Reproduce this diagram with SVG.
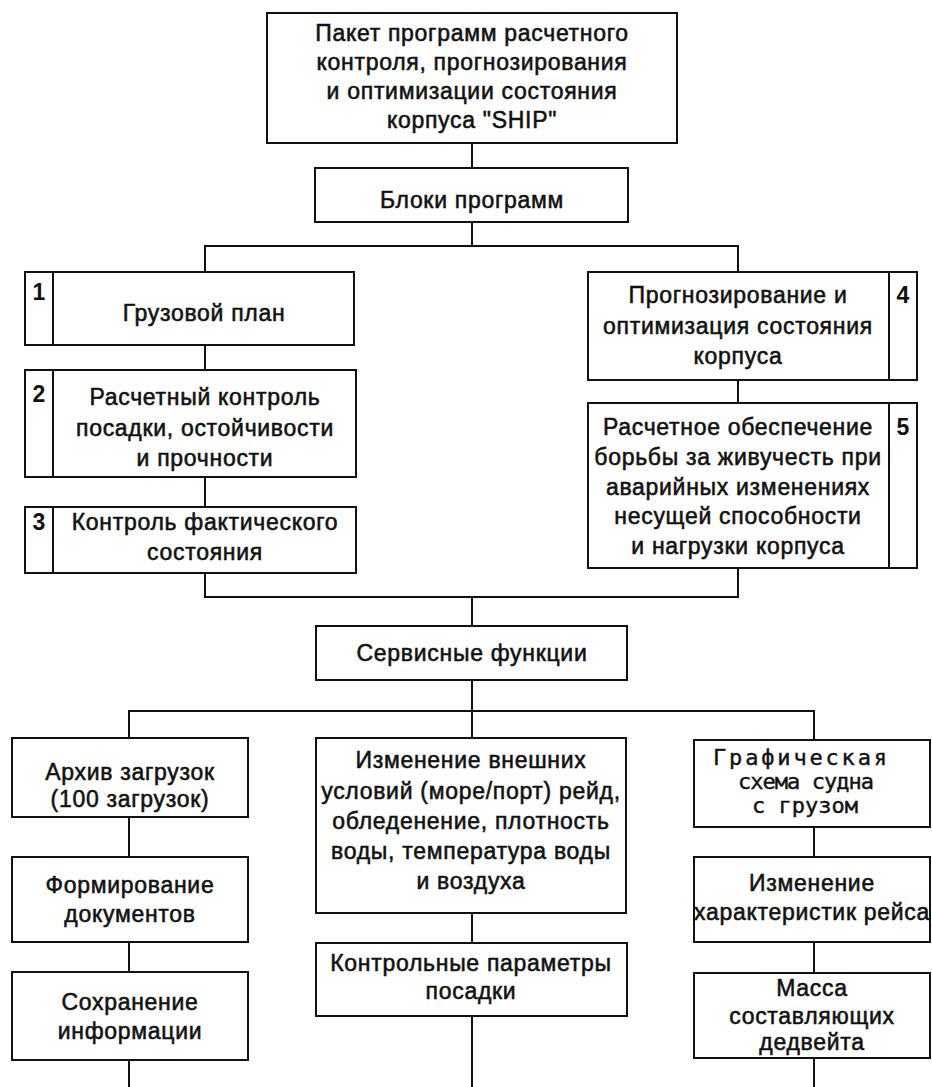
<svg xmlns="http://www.w3.org/2000/svg" width="932" height="1087" viewBox="0 0 932 1087">
  <style>
    .box{fill:#fff;stroke:#111;stroke-width:2}
    .sep{stroke:#111;stroke-width:2}
    .t{font-family:"Liberation Sans",Arial,sans-serif;font-size:23px;letter-spacing:0.7px;fill:#111;stroke:#111;stroke-width:0.55;text-anchor:middle}
    .n{font-family:"Liberation Sans",Arial,sans-serif;font-size:23px;font-weight:bold;fill:#111;text-anchor:middle}
    .m{font-family:"DejaVu Sans Mono","Liberation Mono",monospace;font-size:22px;fill:#111;stroke:#111;stroke-width:0.4;text-anchor:middle}
    .wire{fill:none;stroke:#111;stroke-width:2}
  </style>
  <rect width="932" height="1087" fill="#fff"/>

  <!-- tree connectors -->
  <g id="connectors" class="wire">
    <path d="M472,143 V168"/>
    <path d="M472,222 V246"/>
    <path d="M205,272 V246 H738 V272"/>
    <path d="M205,345 V370"/>
    <path d="M205,477 V507"/>
    <path d="M738,380 V403"/>
    <path d="M205,573 V597 H738 V568"/>
    <path d="M472,597 V626"/>
    <path d="M472,680 V738"/>
    <path d="M129,738 V711 H814 V740"/>
    <path d="M129,817 V857"/>
    <path d="M129,942 V972"/>
    <path d="M129,1060 V1087"/>
    <path d="M472,913 V943"/>
    <path d="M472,1016 V1087"/>
    <path d="M814,827 V857"/>
    <path d="M814,942 V973"/>
    <path d="M814,1058 V1087"/>
  </g>

  <g id="ship-package">
    <rect class="box" x="267" y="13" width="410" height="130"/>
    <text class="t" x="472" y="41">Пакет программ расчетного</text>
    <text class="t" x="472" y="70">контроля, прогнозирования</text>
    <text class="t" x="472" y="99">и оптимизации состояния</text>
    <text class="t" x="472" y="128">корпуса "SHIP"</text>
  </g>

  <g id="program-blocks">
    <rect class="box" x="315" y="168" width="313" height="54"/>
    <text class="t" x="472" y="208">Блоки программ</text>
  </g>

  <g id="block-1">
    <rect class="box" x="25" y="272" width="329" height="73"/>
    <line class="sep" x1="53" y1="272" x2="53" y2="345"/>
    <text class="n" x="39" y="300">1</text>
    <text class="t" x="204" y="321">Грузовой план</text>
  </g>

  <g id="block-2">
    <rect class="box" x="25" y="370" width="331" height="107"/>
    <line class="sep" x1="53" y1="370" x2="53" y2="477"/>
    <text class="n" x="39" y="402">2</text>
    <text class="t" x="205" y="405">Расчетный контроль</text>
    <text class="t" x="205" y="436">посадки, остойчивости</text>
    <text class="t" x="205" y="466">и прочности</text>
  </g>

  <g id="block-3">
    <rect class="box" x="25" y="507" width="331" height="66"/>
    <line class="sep" x1="53" y1="507" x2="53" y2="573"/>
    <text class="n" x="39" y="530">3</text>
    <text class="t" x="205" y="530">Контроль фактического</text>
    <text class="t" x="205" y="560">состояния</text>
  </g>

  <g id="block-4">
    <rect class="box" x="588" y="272" width="329" height="108"/>
    <line class="sep" x1="889" y1="272" x2="889" y2="380"/>
    <text class="n" x="903" y="303">4</text>
    <text class="t" x="738" y="303">Прогнозирование и</text>
    <text class="t" x="738" y="334">оптимизация состояния</text>
    <text class="t" x="738" y="364">корпуса</text>
  </g>

  <g id="block-5">
    <rect class="box" x="588" y="403" width="329" height="165"/>
    <line class="sep" x1="889" y1="403" x2="889" y2="568"/>
    <text class="n" x="903" y="435">5</text>
    <text class="t" x="738" y="435">Расчетное обеспечение</text>
    <text class="t" x="738" y="465">борьбы за живучесть при</text>
    <text class="t" x="738" y="495">аварийных изменениях</text>
    <text class="t" x="738" y="524">несущей способности</text>
    <text class="t" x="738" y="554">и нагрузки корпуса</text>
  </g>

  <g id="service-functions">
    <rect class="box" x="316" y="626" width="311" height="54"/>
    <text class="t" x="472" y="661">Сервисные функции</text>
  </g>

  <g id="load-archive">
    <rect class="box" x="12" y="738" width="236" height="79"/>
    <text class="t" x="130" y="780">Архив загрузок</text>
    <text class="t" x="130" y="807">(100 загрузок)</text>
  </g>

  <g id="documents">
    <rect class="box" x="12" y="857" width="236" height="85"/>
    <text class="t" x="130" y="893">Формирование</text>
    <text class="t" x="130" y="922">документов</text>
  </g>

  <g id="save-info">
    <rect class="box" x="12" y="972" width="236" height="88"/>
    <text class="t" x="130" y="1010">Сохранение</text>
    <text class="t" x="130" y="1039">информации</text>
  </g>

  <g id="external-conditions">
    <rect class="box" x="316" y="738" width="310" height="175"/>
    <text class="t" x="471" y="768">Изменение внешних</text>
    <text class="t" x="471" y="799">условий (море/порт) рейд,</text>
    <text class="t" x="471" y="829">обледенение, плотность</text>
    <text class="t" x="471" y="859">воды, температура воды</text>
    <text class="t" x="471" y="889">и воздуха</text>
  </g>

  <g id="draft-parameters">
    <rect class="box" x="316" y="943" width="311" height="73"/>
    <text class="t" x="471" y="971">Контрольные параметры</text>
    <text class="t" x="471" y="999">посадки</text>
  </g>

  <g id="ship-graphic">
    <rect class="box" x="694" y="740" width="236" height="87"/>
    <text class="m" x="800" y="765" textLength="174" lengthAdjust="spacing">Графическая</text>
    <text class="m" x="806" y="789" textLength="136" lengthAdjust="spacing">схема судна</text>
    <text class="m" x="805" y="813" textLength="106" lengthAdjust="spacing">с грузом</text>
  </g>

  <g id="voyage-data">
    <rect class="box" x="694" y="857" width="236" height="85"/>
    <text class="t" x="812" y="891">Изменение</text>
    <text class="t" x="812" y="920">характеристик рейса</text>
  </g>

  <g id="deadweight">
    <rect class="box" x="694" y="973" width="236" height="85"/>
    <text class="t" x="812" y="996">Масса</text>
    <text class="t" x="812" y="1024">составляющих</text>
    <text class="t" x="812" y="1050">дедвейта</text>
  </g>
</svg>
